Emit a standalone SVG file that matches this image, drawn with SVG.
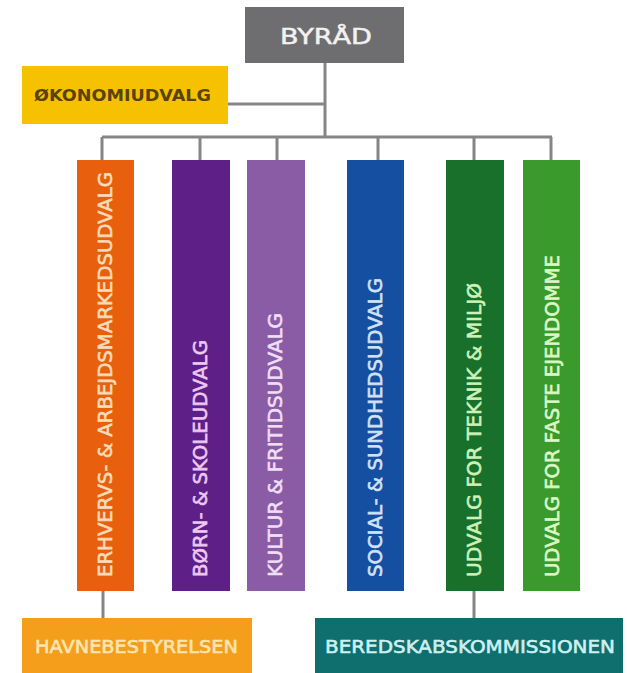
<svg xmlns="http://www.w3.org/2000/svg" width="627" height="673" viewBox="0 0 627 673">
<style>
.ln{stroke:#858585;stroke-width:3;fill:none}
.vt{font-family:"DejaVu Sans","Liberation Sans",sans-serif;font-size:19px;stroke-width:0.6px}
.bt{font-family:"DejaVu Sans","Liberation Sans",sans-serif;font-size:18px;stroke-width:0.6px}
</style>
<rect width="627" height="673" fill="#ffffff"/>
<g id="connectors">
<path class="ln" d="M325 63V137M228 104H325M102 137H552M102 137V160M200 137V160M277 137V160M378 137V160M474 137V160M551 137V160M103 591V618M474 591V618"/>
</g>
<g id="byraad">
<rect x="245" y="7" width="159" height="56" fill="#6e6e70"/>
<text x="326" y="44" text-anchor="middle" font-family="DejaVu Sans,sans-serif" font-size="22" fill="#f2f2f2" stroke="#f2f2f2" stroke-width="0.5" textLength="92" lengthAdjust="spacingAndGlyphs">BYRÅD</text>
</g>
<g id="oekonomi">
<rect x="22" y="66" width="206" height="58" fill="#f6c200"/>
<text x="34" y="101" font-family="DejaVu Sans,sans-serif" font-size="15" font-weight="bold" fill="#5a4200" textLength="177" lengthAdjust="spacingAndGlyphs">ØKONOMIUDVALG</text>
</g>
<g id="erhverv">
<rect x="77" y="160" width="57" height="431" fill="#e8600e"/>
<text class="vt" transform="translate(112 577) rotate(-90)" fill="#f9dcb8" stroke="#f9dcb8" textLength="405" lengthAdjust="spacingAndGlyphs">ERHVERVS- &amp; ARBEJDSMARKEDSUDVALG</text>
</g>
<g id="boern">
<rect x="172" y="160" width="58" height="431" fill="#5e1f86"/>
<text class="vt" transform="translate(207 577) rotate(-90)" fill="#ecc8f2" stroke="#ecc8f2" textLength="237" lengthAdjust="spacingAndGlyphs">BØRN- &amp; SKOLEUDVALG</text>
</g>
<g id="kultur">
<rect x="247" y="160" width="58" height="431" fill="#8b5ca6"/>
<text class="vt" transform="translate(282 577) rotate(-90)" fill="#efdff6" stroke="#efdff6" textLength="264" lengthAdjust="spacingAndGlyphs">KULTUR &amp; FRITIDSUDVALG</text>
</g>
<g id="social">
<rect x="347" y="160" width="57" height="431" fill="#154fa2"/>
<text class="vt" transform="translate(382 577) rotate(-90)" fill="#d2e2f8" stroke="#d2e2f8" textLength="299" lengthAdjust="spacingAndGlyphs">SOCIAL- &amp; SUNDHEDSUDVALG</text>
</g>
<g id="teknik">
<rect x="446" y="160" width="58" height="431" fill="#18702a"/>
<text class="vt" transform="translate(481 577) rotate(-90)" fill="#cdf2b8" stroke="#cdf2b8" textLength="294" lengthAdjust="spacingAndGlyphs">UDVALG FOR TEKNIK &amp; MILJØ</text>
</g>
<g id="ejendomme">
<rect x="523" y="160" width="57" height="431" fill="#3a9a2c"/>
<text class="vt" transform="translate(559 577) rotate(-90)" fill="#dcf8c6" stroke="#dcf8c6" textLength="322" lengthAdjust="spacingAndGlyphs">UDVALG FOR FASTE EJENDOMME</text>
</g>
<g id="havne">
<rect x="22" y="618" width="230" height="55" fill="#f59e1c"/>
<text class="bt" x="35" y="653" fill="#fde5b2" stroke="#fde5b2" textLength="203" lengthAdjust="spacingAndGlyphs">HAVNEBESTYRELSEN</text>
</g>
<g id="beredskab">
<rect x="315" y="618" width="308" height="55" fill="#0f6e6e"/>
<text class="bt" x="325" y="653" fill="#cdf0f0" stroke="#cdf0f0" textLength="290" lengthAdjust="spacingAndGlyphs">BEREDSKABSKOMMISSIONEN</text>
</g>
</svg>
